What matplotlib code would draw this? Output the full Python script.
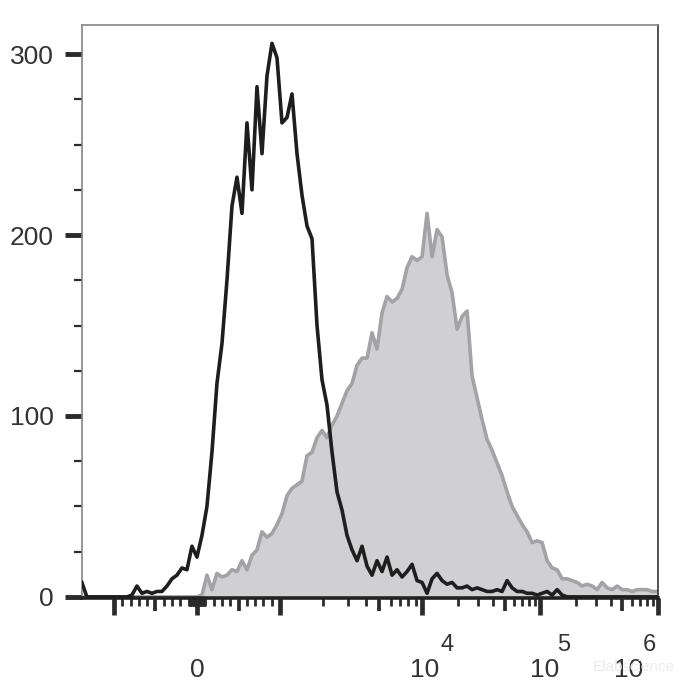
import numpy as np
import matplotlib
matplotlib.use('Agg')
import matplotlib.pyplot as plt

plt.rcParams['font.family'] = ['Liberation Sans', 'DejaVu Sans']

# histogram counts per channel (channels evenly spaced on the display scale)
black_counts = [8, 0, 0, 0, 0, 0, 0, 0, 0, 0, 1,
                6, 2, 3, 2, 3, 3, 6, 10, 12, 16,
                15, 28, 22, 34, 50, 80, 118, 140, 175, 216,
                232, 212, 262, 225, 282, 245, 288, 306, 298, 262,
                265, 278, 245, 222, 205, 198, 150, 120, 106, 80,
                58, 48, 34, 26, 20, 28, 17, 12, 20, 14,
                22, 12, 15, 11, 14, 18, 9, 8, 2, 10,
                13, 9, 7, 8, 5, 5, 6, 4, 5, 4,
                3, 3, 4, 3, 9, 5, 3, 3, 2, 2,
                1, 2, 3, 1, 4, 1,
                0, 0, 0, 0, 0, 0, 0, 0, 0, 0, 0, 0, 0, 0, 0, 0, 0, 0, 0]

gray_counts = [0] * 24 + [1,
               12, 4, 13, 11, 12, 15, 14, 20, 15, 23, 26,
               36, 33, 35, 40, 46, 56, 60, 62, 64, 78, 80,
               88, 92, 88, 95, 100, 107, 114, 118, 128, 132, 132,
               146, 137, 157, 166, 163, 165, 170, 182, 188, 186, 188,
               212, 188, 203, 199, 178, 168, 148, 155, 158, 122, 110,
               98, 87, 81, 74, 67, 58, 50, 45, 40, 36, 30,
               31, 30, 20, 16, 15, 10, 10, 9, 8, 6, 7,
               6, 4, 8, 5, 4, 6, 4, 4, 3, 4, 4,
               4, 3, 3]

x_range = (-1386, 1e6)
major_ticks = [-1e3, 0, 1e3, 1e4, 1e5, 1e6]
mid_ticks = [-500, 500, 5e3, 5e4, 5e5]
minor_ticks = ([-s * m for m in (10, 100) for s in range(1, 10) if s * m != 500] +
               [s * m for m in (10, 100, 1e3, 1e4, 1e5) for s in range(1, 10) if s != 5] +
               [50])
y_major = [0, 100, 200, 300]
y_minor = np.arange(0, 325, 25)


# biexponential-like display: linear below 10^3, then log decades
def fwd(x):
    x = np.asarray(x, dtype=float)
    lg = np.log10(np.clip(x, 1e3, None))
    return np.where(x <= 1e3, x / 1e3,
                    1 + 1.71 * np.minimum(lg - 3, 1) + 1.42 * np.maximum(lg - 4, 0))


def inv(d):
    d = np.clip(np.asarray(d, dtype=float), -50, 20)
    e = 3 + np.clip(d - 1, 0, 1.71) / 1.71 + np.maximum(d - 2.71, 0) / 1.42
    return np.where(d <= 1, d * 1e3, 10 ** e)


channels = np.linspace(fwd(x_range[0]), fwd(1e6) - 0.01, len(black_counts))
xs = inv(channels)

fig = plt.figure(figsize=(7, 7), dpi=100)
ax = fig.add_axes([0.117, 0.146, 0.823, 0.818])
ax.set_xscale('function', functions=(fwd, inv))

ax.fill_between(xs, 0, gray_counts, color='#d0d0d2', lw=0, zorder=1)
ax.plot(xs, gray_counts, color='#a3a3a7', lw=2.6, zorder=2)
ax.plot(xs, black_counts, color='#1e1e1e', lw=2.6, zorder=3)

ax.set_xlim(*x_range)
ax.set_ylim(-0.5, 316)

for side, c, w in [('left', '#858585', 1.2), ('top', '#858585', 1.2),
                   ('right', '#333333', 1.2), ('bottom', '#222222', 2.6)]:
    ax.spines[side].set_color(c)
    ax.spines[side].set_linewidth(w)

ax.set_yticks(y_major)
ax.set_yticks(y_minor, minor=True)
ax.tick_params(axis='y', which='major', length=12, width=3.5, color='#2b2b2b',
               labelsize=19, labelcolor='#333333', pad=8)
ax.tick_params(axis='y', which='minor', length=5.5, width=1.6, color='#2b2b2b')

ax.set_xticks(major_ticks)
ax.set_xticks(minor_ticks, minor=True)
ax.tick_params(axis='x', which='major', length=12.5, width=3.4, color='#2b2b2b',
               labelbottom=False)
ax.tick_params(axis='x', which='minor', length=6, width=2, color='#2b2b2b')

ax2 = ax.twiny()
ax2.set_xscale('function', functions=(fwd, inv))
ax2.set_xlim(*x_range)
ax2.xaxis.set_ticks_position('bottom')
ax2.set_xticks(mid_ticks)
ax2.set_xticks([], minor=True)
ax2.tick_params(axis='x', length=9, width=2.7, color='#2b2b2b',
                labelbottom=False, labeltop=False)
for s in ax2.spines.values():
    s.set_visible(False)

# x labels: "0", "10^4", "10^5", "10^6"
labels = [(0, '0', None, 0), (1e4, '10', '4', 2), (1e5, '10', '5', 3), (1e6, '10', '6', -21)]
sup_dx = {1e4: 18, 1e5: 17, 1e6: -6}
for val, txt, sup, dx in labels:
    ax.annotate(txt, xy=(val, 0), xycoords=('data', 'axes fraction'),
                xytext=(dx, -57), textcoords='offset points', ha='center',
                va='baseline', fontsize=19, color='#333333', annotation_clip=False)
    if sup:
        ax.annotate(sup, xy=(val, 0), xycoords=('data', 'axes fraction'),
                    xytext=(sup_dx[val], -38), textcoords='offset points',
                    ha='center', va='baseline', fontsize=17, color='#333333',
                    annotation_clip=False)

fig.text(0.905, 0.047, 'Elabscience', fontsize=11, color='#ececec',
         ha='center', va='center')

fig.savefig('out.png', dpi=100)
